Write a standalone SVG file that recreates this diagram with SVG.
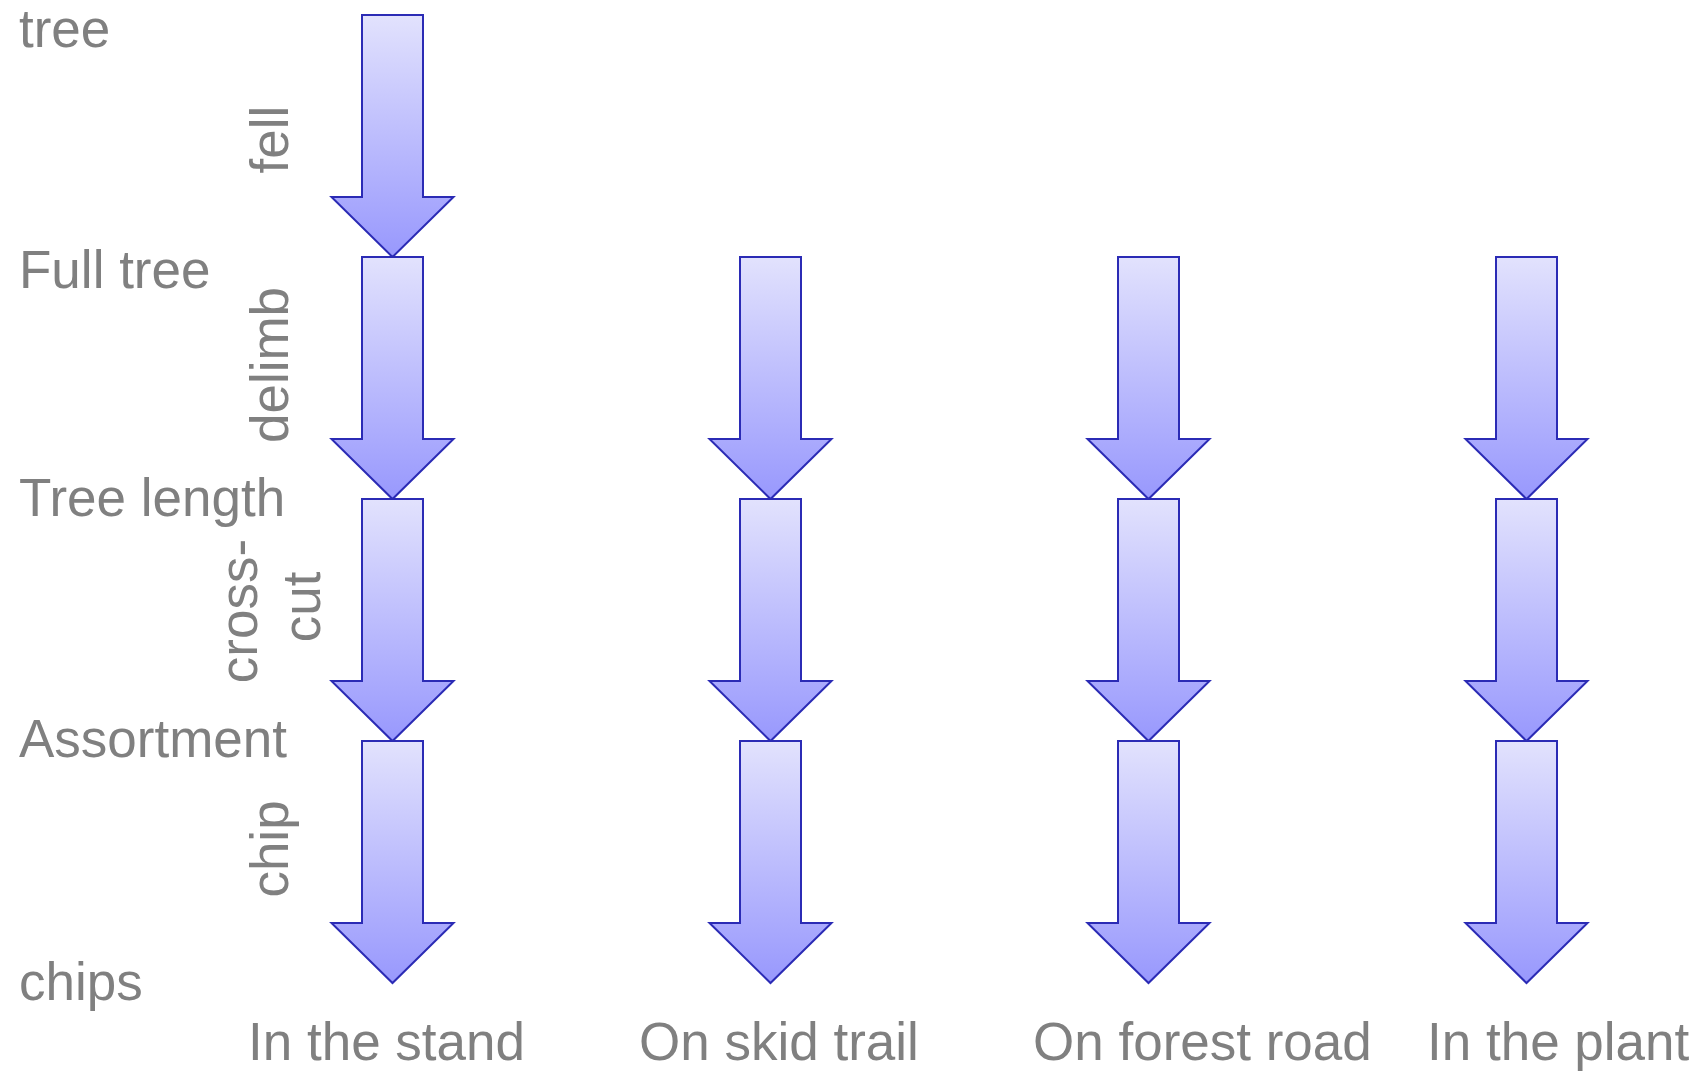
<svg xmlns="http://www.w3.org/2000/svg" xmlns:xlink="http://www.w3.org/1999/xlink" width="1708" height="1071" viewBox="0 0 1708 1071">
<style>
.lbl{font-family:"Liberation Sans",Arial,sans-serif;font-size:53px;fill:#808080}
.arr{fill:url(#g);stroke:#2b2bb5;stroke-width:2;stroke-linejoin:miter}
</style>
<defs>
<linearGradient id="g" x1="0" y1="0" x2="0" y2="1">
<stop offset="0" stop-color="#e2e2fd"/>
<stop offset="1" stop-color="#9898fd"/>
</linearGradient>
<path id="a" class="arr" d="M-30.5,0 H30.5 V182 H61 L0,242 L-61,182 H-30.5 Z"/>
</defs>
<rect width="1708" height="1071" fill="#ffffff"/>
<g id="connectors">
<use id="c1r1" xlink:href="#a" x="392.5" y="15"/>
<use id="c1r2" xlink:href="#a" x="392.5" y="257"/>
<use id="c1r3" xlink:href="#a" x="392.5" y="499"/>
<use id="c1r4" xlink:href="#a" x="392.5" y="741"/>
<use id="c2r2" xlink:href="#a" x="770.5" y="257"/>
<use id="c2r3" xlink:href="#a" x="770.5" y="499"/>
<use id="c2r4" xlink:href="#a" x="770.5" y="741"/>
<use id="c3r2" xlink:href="#a" x="1148.5" y="257"/>
<use id="c3r3" xlink:href="#a" x="1148.5" y="499"/>
<use id="c3r4" xlink:href="#a" x="1148.5" y="741"/>
<use id="c4r2" xlink:href="#a" x="1526.5" y="257"/>
<use id="c4r3" xlink:href="#a" x="1526.5" y="499"/>
<use id="c4r4" xlink:href="#a" x="1526.5" y="741"/>
</g>
<g id="state-tree"><text class="lbl" x="19" y="47">tree</text></g>
<g id="state-fulltree"><text class="lbl" x="19" y="288">Full tree</text></g>
<g id="state-treelength"><text class="lbl" x="19" y="516">Tree length</text></g>
<g id="state-assortment"><text class="lbl" x="19" y="757">Assortment</text></g>
<g id="state-chips"><text class="lbl" x="19" y="1000">chips</text></g>
<g id="op-fell"><text class="lbl" text-anchor="middle" transform="translate(288,139.5) rotate(-90)">fell</text></g>
<g id="op-delimb"><text class="lbl" text-anchor="middle" transform="translate(288,365) rotate(-90)">delimb</text></g>
<g id="op-crosscut">
<text class="lbl" text-anchor="middle" transform="translate(257,611) rotate(-90)">cross-</text>
<text class="lbl" text-anchor="middle" transform="translate(320,607) rotate(-90)">cut</text>
</g>
<g id="op-chip"><text class="lbl" text-anchor="middle" transform="translate(288,849) rotate(-90)">chip</text></g>
<g id="loc-stand"><text class="lbl" x="248" y="1060">In the stand</text></g>
<g id="loc-skid"><text class="lbl" x="639" y="1060">On skid trail</text></g>
<g id="loc-road"><text class="lbl" x="1033" y="1060">On forest road</text></g>
<g id="loc-plant"><text class="lbl" x="1427" y="1060">In the plant</text></g>
</svg>
